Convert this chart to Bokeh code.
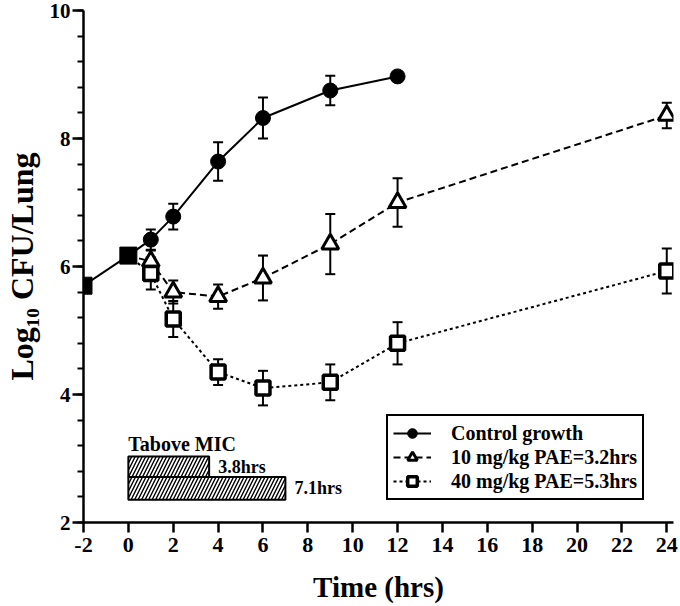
from bokeh.plotting import figure
from bokeh.models import (Range1d, FixedTicker, SingleIntervalTicker, Whisker, TeeHead,
                          ColumnDataSource, Legend, LegendItem)
from bokeh.core.properties import value
from bokeh.embed import file_html
from bokeh.resources import INLINE

# ---------------- data ----------------
pre_time = [-2, 0]
pre_cfu = [5.70, 6.17]

ctrl_time = [1, 2, 4, 6, 9, 12]
ctrl_cfu = [6.42, 6.78, 7.64, 8.32, 8.75, 8.97]
ctrl_sd = [0.16, 0.20, 0.30, 0.32, 0.23, 0.0]

d10_time = [1, 2, 4, 6, 9, 12, 24]
d10_cfu = [6.08, 5.60, 5.53, 5.82, 6.35, 7.00, 8.36]
d10_sd = [0.17, 0.18, 0.19, 0.35, 0.47, 0.38, 0.20]

d40_time = [1, 2, 4, 6, 9, 12, 24]
d40_cfu = [5.89, 5.18, 4.35, 4.10, 4.19, 4.80, 5.93]
d40_sd = [0.25, 0.28, 0.20, 0.27, 0.28, 0.33, 0.35]

series_labels = ["Control growth", "10 mg/kg PAE=3.2hrs", "40 mg/kg PAE=5.3hrs"]

tmic_hours = [3.6, 7.0]
tmic_labels = ["3.8hrs", "7.1hrs"]
tmic_title = "Tabove MIC"

x_ticks = [-2, 0, 2, 4, 6, 8, 10, 12, 14, 16, 18, 20, 22, 24]
x_title = "Time (hrs)"
y_title = "Log\u2081\u2080 CFU/Lung"

# ---------------- styling ----------------
FONT = "Liberation Serif"

p = figure(width=678, height=606, x_range=Range1d(-2, 24.3), y_range=Range1d(2, 10),
           output_backend="svg", toolbar_location=None,
           min_border_left=83, min_border_right=5, min_border_top=10, min_border_bottom=84)
p.outline_line_color = None
p.grid.visible = False
p.background_fill_color = "white"
p.border_fill_color = "white"

# x axis
xa = p.xaxis[0]
xa.ticker = FixedTicker(ticks=x_ticks, minor_ticks=[])
xa.major_label_overrides = {t: str(t) for t in x_ticks}
xa.axis_line_width = 2.5
xa.axis_line_color = "black"
xa.major_tick_line_width = 2.5
xa.major_tick_line_color = "black"
xa.major_tick_out = 10
xa.major_tick_in = 0
xa.minor_tick_out = 0
xa.minor_tick_in = 0
xa.major_label_standoff = 5
xa.major_label_text_font = FONT
xa.major_label_text_font_style = "bold"
xa.major_label_text_font_size = "22px"
xa.major_label_text_color = "black"
xa.axis_label = x_title
xa.axis_label_text_font = FONT
xa.axis_label_text_font_style = "bold"
xa.axis_label_text_font_size = "29px"
xa.axis_label_text_color = "black"
xa.axis_label_standoff = 16

# y axis
ya = p.yaxis[0]
ya.ticker = SingleIntervalTicker(interval=2, num_minor_ticks=5)
ya.axis_line_width = 2.5
ya.axis_line_color = "black"
ya.major_tick_line_width = 2.5
ya.major_tick_line_color = "black"
ya.minor_tick_line_width = 2
ya.minor_tick_line_color = "black"
ya.major_tick_out = 11
ya.major_tick_in = 0
ya.minor_tick_out = 6
ya.minor_tick_in = 0
ya.major_label_standoff = 2
ya.major_label_text_font = FONT
ya.major_label_text_font_style = "bold"
ya.major_label_text_font_size = "21px"
ya.major_label_text_color = "black"
ya.axis_label = y_title
ya.axis_label_text_font = FONT
ya.axis_label_text_font_style = "bold"
ya.axis_label_text_font_size = "32px"
ya.axis_label_text_color = "black"
ya.axis_label_text_line_height = 0.8
ya.axis_label_standoff = 7

# ---------------- T above MIC bars ----------------
row_top = [3.03, 2.71]
row_bot = [2.71, 2.355]
bar_src = ColumnDataSource(dict(left=[0, 0], right=tmic_hours, top=row_top, bottom=row_bot,
                                label=tmic_labels,
                                ymid=[(a + b) / 2 for a, b in zip(row_top, row_bot)]))
p.quad(left="left", right="right", top="top", bottom="bottom", source=bar_src,
       fill_color="white", line_color="black", line_width=2,
       hatch_pattern="/", hatch_color="black", hatch_scale=7, hatch_weight=1.4)
p.text(x="right", y="ymid", text="label", source=bar_src, x_offset=9,
       text_font=value(FONT), text_font_style="bold", text_font_size="18px",
       text_baseline="middle", text_align="left", text_color="black")
p.text(x=[0], y=[3.23], text=[tmic_title], text_font=value(FONT), text_font_style="bold",
       text_font_size="20px", text_baseline="alphabetic", text_align="left", text_color="black")

# ---------------- error bars ----------------
def whisk(xs, ys, sds):
    pts = [(x, y, s) for x, y, s in zip(xs, ys, sds) if s > 0]
    src = ColumnDataSource(dict(x=[a for a, _, _ in pts],
                                upper=[b + c for _, b, c in pts],
                                lower=[b - c for _, b, c in pts]))
    w = Whisker(base="x", upper="upper", lower="lower", source=src, dimension="height",
                line_color="black", line_width=2, level="underlay",
                upper_head=TeeHead(size=10, line_width=2, line_color="black"),
                lower_head=TeeHead(size=10, line_width=2, line_color="black"))
    p.add_layout(w)

whisk(ctrl_time, ctrl_cfu, ctrl_sd)
whisk(d10_time, d10_cfu, d10_sd)
whisk(d40_time, d40_cfu, d40_sd)

# ---------------- lines ----------------
ctrl_line = p.line(pre_time + ctrl_time, pre_cfu + ctrl_cfu, line_color="black", line_width=2)
d10_line = p.line([pre_time[-1]] + d10_time, [pre_cfu[-1]] + d10_cfu, line_color="black",
                  line_width=2, line_dash="7 4")
d40_line = p.line([pre_time[-1]] + d40_time, [pre_cfu[-1]] + d40_cfu, line_color="black",
                  line_width=2, line_dash="3 3")

# ---------------- markers ----------------
p.scatter(pre_time, pre_cfu, marker="square", size=17, fill_color="black", line_color="black")
ctrl_mk = p.scatter(ctrl_time, ctrl_cfu, marker="circle", size=15, fill_color="black",
                    line_color="black")
d10_mk = p.scatter(d10_time, d10_cfu, marker="triangle", size=17, fill_color="white",
                   line_color="black", line_width=3)
d40_mk = p.scatter(d40_time, d40_cfu, marker="square", size=14, fill_color="white",
                   line_color="black", line_width=3.5)

# ---------------- legend ----------------
legend = Legend(items=[LegendItem(label=series_labels[0], renderers=[ctrl_line, ctrl_mk]),
                       LegendItem(label=series_labels[1], renderers=[d10_line, d10_mk]),
                       LegendItem(label=series_labels[2], renderers=[d40_line, d40_mk])],
                location=(303, 22), orientation="vertical",
                label_text_font=FONT, label_text_font_style="bold", label_text_font_size="20px",
                label_text_color="black",
                border_line_color="black", border_line_width=2, border_line_alpha=1,
                background_fill_alpha=1,
                padding=5, spacing=0, margin=0, glyph_width=38, glyph_height=24,
                label_standoff=20, label_height=24)
p.add_layout(legend)

open("out.html", "w").write(file_html(p, INLINE))
